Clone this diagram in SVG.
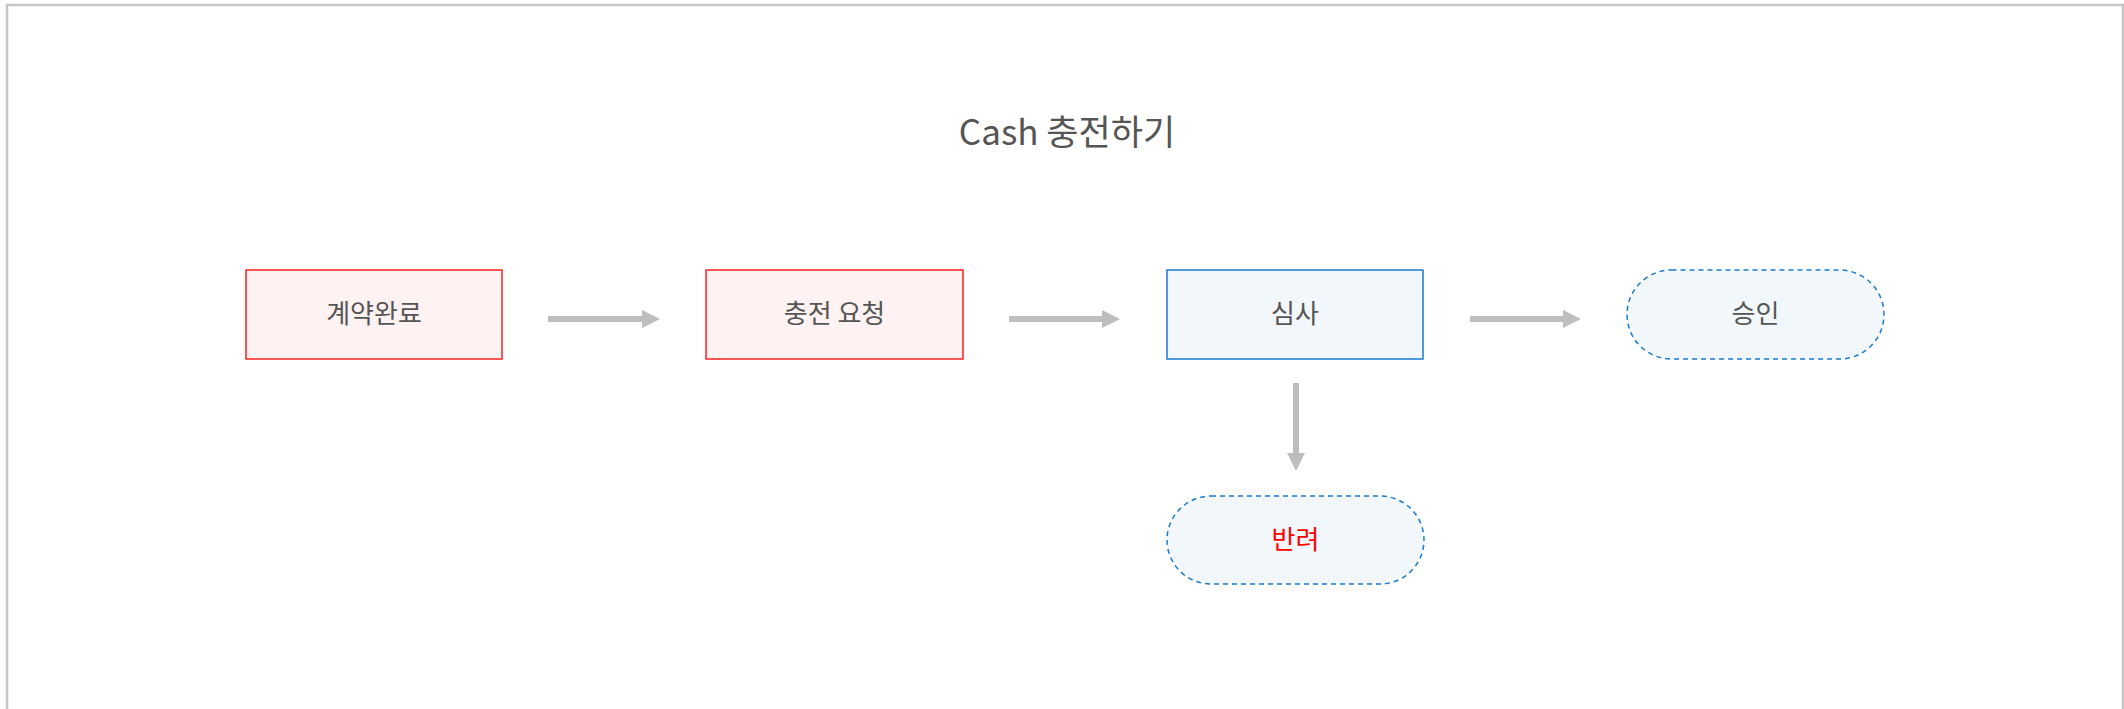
<svg xmlns="http://www.w3.org/2000/svg" width="2124" height="709" viewBox="0 0 2124 709">
<defs>
<style>
.frame{fill:#fff;stroke:#c6c6c6;stroke-width:2.5}
.red{fill:#fff2f2;stroke:#ff1f1f;stroke-width:1.5}
.blue{fill:#f2f7fc;stroke:#1a7bd0;stroke-width:1.5}
.dash{fill:#f2f7fc;stroke:#1a7bd0;stroke-width:1.5;stroke-dasharray:5 4}
.lbl{font-family:"Noto Sans CJK KR","Noto Sans",sans-serif;font-size:26px;fill:#555;text-anchor:middle}
.title{font-family:"Noto Sans CJK KR","Noto Sans",sans-serif;font-size:35px;fill:#555;text-anchor:middle}
.conn{stroke:#bebebe;stroke-width:6;fill:none;marker-end:url(#ah)}
</style>
<marker id="ah" markerUnits="userSpaceOnUse" markerWidth="18" markerHeight="18" refX="0" refY="9" orient="auto">
<path d="M0,0 L18,9 L0,18 Z" fill="#bebebe"/>
</marker>
</defs>
<rect class="frame" x="7" y="5" width="2116" height="720"/>
<text class="title" x="1067" y="145">Cash 충전하기</text>
<g id="connectors">
<line class="conn" x1="548" y1="319" x2="642" y2="319"/>
<line class="conn" x1="1009" y1="319" x2="1102" y2="319"/>
<line class="conn" x1="1470" y1="319" x2="1563" y2="319"/>
<line class="conn" x1="1296" y1="383" x2="1296" y2="453"/>
</g>
<g id="n1"><rect class="red" x="246" y="270" width="256" height="89"/><text class="lbl" x="374" y="323">계약완료</text></g>
<g id="n2"><rect class="red" x="706" y="270" width="257" height="89"/><text class="lbl" x="834.5" y="323">충전 요청</text></g>
<g id="n3"><rect class="blue" x="1167" y="270" width="256" height="89"/><text class="lbl" x="1295" y="323">심사</text></g>
<g id="n4"><rect class="dash" x="1627" y="270" width="257" height="89" rx="44.5"/><text class="lbl" x="1755.5" y="323">승인</text></g>
<g id="n5"><rect class="dash" x="1167" y="496" width="257" height="88" rx="44"/><text class="lbl" x="1295.5" y="549" style="fill:#ff0000">반려</text></g>
</svg>
